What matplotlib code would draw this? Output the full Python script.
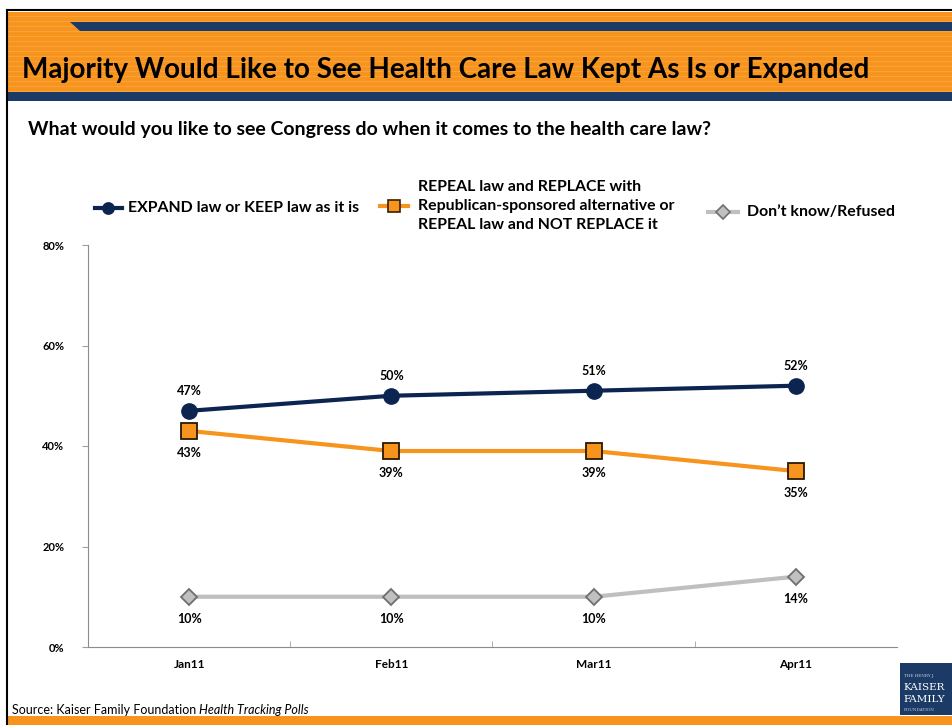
import matplotlib
matplotlib.use("Agg")
import matplotlib.pyplot as plt
from matplotlib.patches import Rectangle, Polygon
from matplotlib.lines import Line2D

categories = ["Jan11", "Feb11", "Mar11", "Apr11"]
expand_keep = [47, 50, 51, 52]
repeal = [43, 39, 39, 35]
dont_know = [10, 10, 10, 14]
y_ticks = [0, 20, 40, 60, 80]

NAVY = "#0c2450"
ORANGE = "#f7941d"
GRAY = "#bfbfbf"
BAND = "#1b3a66"
FONT = ["Lato", "DejaVu Sans"]
plt.rcParams["font.family"] = FONT

W, H = 953, 725
fig = plt.figure(figsize=(W / 100, H / 100), dpi=100)
fig.patch.set_facecolor("white")

def fx(x):
    return x / W

def fy(y):
    return 1 - y / H

# Header band
fig.patches.append(Rectangle((fx(7), fy(92)), fx(946), 80 / H, transform=fig.transFigure,
                             facecolor=ORANGE, edgecolor="none", zorder=1))
for yy in range(16, 92, 5):
    fig.lines.append(Line2D([fx(7), 1], [fy(yy), fy(yy)], transform=fig.transFigure,
                            color="#fbb05a", lw=0.6, alpha=0.6, zorder=1.5))
fig.patches.append(Polygon([(fx(70), fy(22)), (1, fy(22)), (1, fy(31)), (fx(80), fy(31))],
                           closed=True, transform=fig.transFigure, facecolor=BAND,
                           edgecolor="none", zorder=2))
fig.patches.append(Rectangle((fx(7), fy(101)), fx(946), 9 / H, transform=fig.transFigure,
                             facecolor=BAND, edgecolor="none", zorder=2))
# Bottom orange strip
fig.patches.append(Rectangle((fx(7), 0), fx(946), 9 / H, transform=fig.transFigure,
                             facecolor=ORANGE, edgecolor="none", zorder=2))
# Frame lines
fig.lines.append(Line2D([fx(7), fx(7)], [0, fy(10)], transform=fig.transFigure, color="black", lw=1.5, zorder=3))
fig.lines.append(Line2D([fx(7), 1], [fy(10), fy(10)], transform=fig.transFigure, color="black", lw=1.5, zorder=3))

fig.text(fx(22), fy(70), "Majority Would Like to See Health Care Law Kept As Is or Expanded",
         fontsize=20.1, fontweight="bold", color="black", va="center", ha="left", zorder=4)
fig.text(fx(28), fy(129), "What would you like to see Congress do when it comes to the health care law?",
         fontsize=14, fontweight="bold", color="black", va="center", ha="left")

# Axes
ax = fig.add_axes([fx(88), fy(647), 809 / W, 402 / H])
x = [i + 0.5 for i in range(len(categories))]
ax.plot(x, dont_know, color=GRAY, lw=3, marker="D", ms=8, mfc="#c0c0c0", mec="#6f6f6f", mew=1.3, zorder=3)
ax.plot(x, repeal, color=ORANGE, lw=3, marker="s", ms=11, mfc=ORANGE, mec="#2a1a00", mew=1.3, zorder=4)
ax.plot(x, expand_keep, color=NAVY, lw=3, marker="o", ms=11, mfc=NAVY, mec=NAVY, zorder=5)

for xi, v in zip(x, expand_keep):
    ax.annotate(f"{v}%", (xi, v), xytext=(0, 14.5), textcoords="offset points", ha="center",
                va="center", fontsize=9, fontweight="bold")
for xi, v in zip(x, repeal):
    ax.annotate(f"{v}%", (xi, v), xytext=(0, -16), textcoords="offset points", ha="center",
                va="center", fontsize=9, fontweight="bold")
for xi, v in zip(x, dont_know):
    ax.annotate(f"{v}%", (xi, v), xytext=(0, -16), textcoords="offset points", ha="center",
                va="center", fontsize=9, fontweight="bold")

ax.set_xlim(0, 4)
ax.set_ylim(0, 80)
ax.set_yticks(y_ticks)
ax.set_yticklabels([f"{t}%" for t in y_ticks], fontsize=8, fontweight="bold")
ax.set_xticks(x)
ax.set_xticklabels(categories, fontsize=8.5, fontweight="bold")
ax.set_xticks([1, 2, 3], minor=True)
ax.tick_params(axis="x", which="major", length=0, pad=9)
ax.tick_params(axis="x", which="minor", length=4, direction="in", color="#a0a0a0")
ax.tick_params(axis="y", length=4, color="#a0a0a0", pad=13)
for s in ["top", "right"]:
    ax.spines[s].set_visible(False)
ax.spines["left"].set_color("#8c8c8c")
ax.spines["bottom"].set_color("#8c8c8c")
ax.set_facecolor("none")

# Legend (custom positioned)
def leg_line(x0, x1, y, color, marker, ms, mfc, mec):
    fig.lines.append(Line2D([fx(x0), fx(x1)], [fy(y), fy(y)], transform=fig.transFigure,
                            color=color, lw=3))
    fig.lines.append(Line2D([fx((x0 + x1) / 2)], [fy(y)], transform=fig.transFigure,
                            marker=marker, ms=ms, mfc=mfc, mec=mec, mew=1.2, color=color))

LFS = 11.4
leg_line(95, 122, 208, NAVY, "o", 8, NAVY, NAVY)
fig.text(fx(128), fy(208), "EXPAND law or KEEP law as it is", fontsize=LFS, fontweight="bold",
         va="center", ha="left")
leg_line(380, 408, 206, ORANGE, "s", 8, ORANGE, "#3a2000")
fig.text(fx(418), fy(206), "REPEAL law and REPLACE with\nRepublican-sponsored alternative or\nREPEAL law and NOT REPLACE it",
         fontsize=LFS, fontweight="bold", va="center", ha="left", linespacing=1.45)
leg_line(708, 738, 212, GRAY, "D", 7, "#c0c0c0", "#6f6f6f")
fig.text(fx(747), fy(212), "Don\u2019t know/Refused", fontsize=LFS, fontweight="bold",
         va="center", ha="left")

# Source
t1 = fig.text(fx(12), fy(710), "Source: Kaiser Family Foundation", fontsize=9, va="center", ha="left")
fig.canvas.draw()
bb = t1.get_window_extent(renderer=fig.canvas.get_renderer())
fig.text(bb.x1 / W + fx(3), fy(710), "Health Tracking Polls", fontsize=9, style="italic", va="center", ha="left")

# Logo
fig.patches.append(Rectangle((fx(900), fy(715)), fx(53), 52 / H, transform=fig.transFigure,
                             facecolor=BAND, edgecolor="none"))
fig.text(fx(904), fy(676), "THE HENRY J.", fontsize=3, color="#c8d0e0", va="center", ha="left", family="DejaVu Serif")
fig.text(fx(903), fy(688), "KAISER", fontsize=7.5, color="white", va="center", ha="left", family="DejaVu Serif")
fig.text(fx(903), fy(700), "FAMILY", fontsize=7.5, color="white", va="center", ha="left", family="DejaVu Serif")
fig.text(fx(904), fy(710), "FOUNDATION", fontsize=3, color="#c8d0e0", va="center", ha="left", family="DejaVu Serif")

fig.savefig("out.png", dpi=100)
